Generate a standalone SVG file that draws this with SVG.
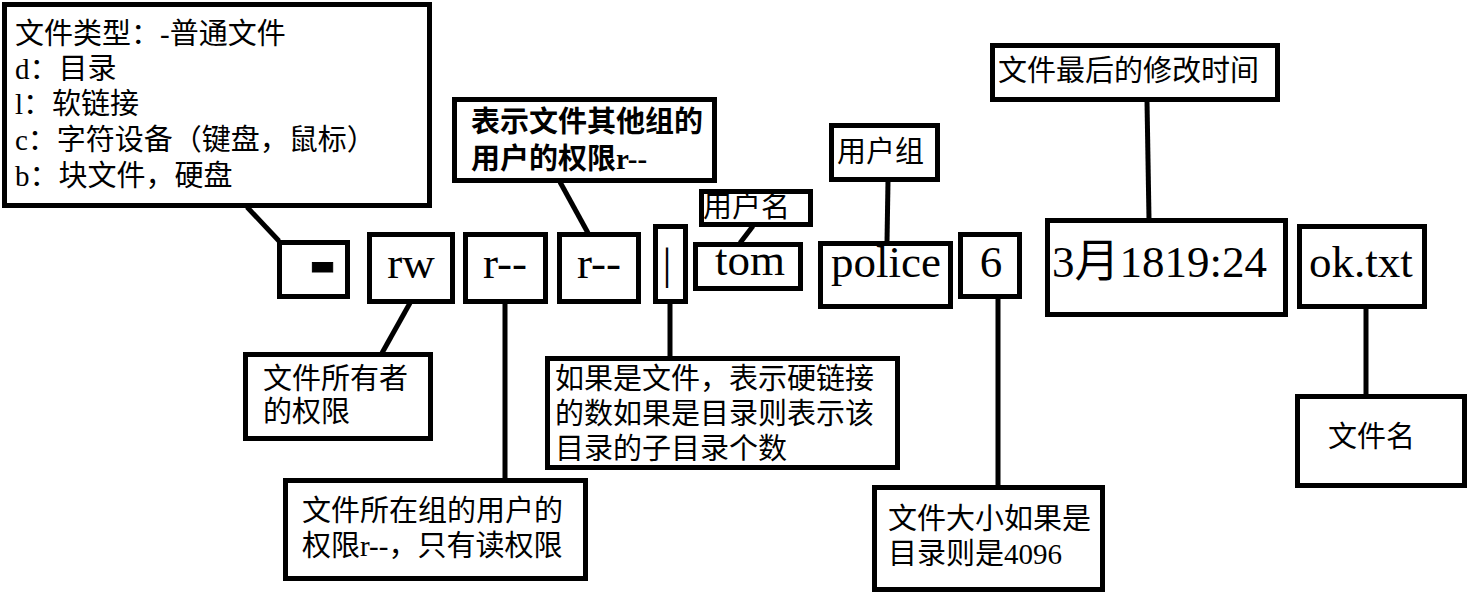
<svg xmlns="http://www.w3.org/2000/svg" width="1468" height="595" viewBox="0 0 1468 595">
<style>
  .box { fill: #ffffff; stroke: #000000; stroke-width: 5; }
  .conn { stroke: #000000; stroke-width: 5; fill: none; stroke-linecap: butt; }
  .lbl { font-family: "Liberation Serif", "Noto Sans CJK SC", serif; font-size: 29px; fill: #000000; }
  .bold { font-weight: bold; }
  .big { font-family: "Liberation Serif", "Noto Sans CJK SC", serif; font-size: 45px; fill: #000000; }
</style>
<rect width="1468" height="595" fill="#ffffff"/>

<g id="connectors">
  <line class="conn" x1="247" y1="207" x2="279" y2="241"/>
  <line class="conn" x1="410" y1="303" x2="382" y2="353"/>
  <line class="conn" x1="505" y1="303" x2="505" y2="479"/>
  <line class="conn" x1="560" y1="182" x2="588" y2="233"/>
  <line class="conn" x1="670" y1="303" x2="670" y2="357"/>
  <line class="conn" x1="753" y1="226" x2="740" y2="243"/>
  <line class="conn" x1="888" y1="181" x2="887" y2="242"/>
  <line class="conn" x1="998" y1="298" x2="998" y2="486"/>
  <line class="conn" x1="1147" y1="101" x2="1149" y2="219"/>
  <line class="conn" x1="1366" y1="308" x2="1366" y2="395"/>
</g>

<g id="type-note">
  <rect class="box" x="4.5" y="4.5" width="425" height="201"/>
  <text class="lbl" x="15" y="44">文件类型：-普通文件</text>
  <text class="lbl" x="15" y="79">d：目录</text>
  <text class="lbl" x="15" y="114">l：软链接</text>
  <text class="lbl" x="15" y="150">c：字符设备（键盘，鼠标）</text>
  <text class="lbl" x="15" y="186">b：块文件，硬盘</text>
</g>

<g id="type">
  <rect class="box" x="279.5" y="242.5" width="68" height="54"/>
  <text x="322.5" y="288" text-anchor="middle" font-family="Liberation Sans, sans-serif" font-weight="bold" font-size="80" stroke="#000" stroke-width="1">-</text>
</g>

<g id="owner-perm">
  <rect class="box" x="369.5" y="234.5" width="83" height="67"/>
  <text class="big" x="411" y="278" text-anchor="middle">rw</text>
</g>

<g id="group-perm">
  <rect class="box" x="465.5" y="234.5" width="80" height="67"/>
  <text class="big" x="505" y="278" text-anchor="middle">r--</text>
</g>

<g id="other-perm">
  <rect class="box" x="559.5" y="234.5" width="79" height="67"/>
  <text class="big" x="599" y="278" text-anchor="middle">r--</text>
</g>

<g id="links">
  <rect class="box" x="655.5" y="226.5" width="30" height="75"/>
  <text class="big" x="667" y="279" text-anchor="middle" font-size="52">|</text>
</g>

<g id="user">
  <rect class="box" x="695.5" y="244.5" width="105" height="44"/>
  <text class="big" x="750" y="275" text-anchor="middle">tom</text>
</g>

<g id="group">
  <rect class="box" x="820.5" y="243.5" width="130" height="63"/>
  <text class="big" x="886" y="277" text-anchor="middle">police</text>
</g>

<g id="size">
  <rect class="box" x="960.5" y="234.5" width="59" height="62"/>
  <text class="big" x="991" y="277" text-anchor="middle">6</text>
</g>

<g id="mtime">
  <rect class="box" x="1047.5" y="220.5" width="238" height="94"/>
  <text class="big" x="1052" y="277">3月1819:24</text>
</g>

<g id="filename">
  <rect class="box" x="1299.5" y="226.5" width="125" height="80"/>
  <text class="big" x="1361" y="277" text-anchor="middle">ok.txt</text>
</g>

<g id="other-note">
  <rect class="box" x="454.5" y="99.5" width="260" height="81"/>
  <text class="lbl bold" x="471" y="132">表示文件其他组的</text>
  <text class="lbl bold" x="471" y="169">用户的权限r--</text>
</g>

<g id="user-note">
  <rect class="box" x="701.5" y="191.5" width="109" height="33"/>
  <text class="lbl" x="703" y="217">用户名</text>
</g>

<g id="group-note">
  <rect class="box" x="831.5" y="125.5" width="106" height="54"/>
  <text class="lbl" x="837" y="162">用户组</text>
</g>

<g id="mtime-note">
  <rect class="box" x="992.5" y="45.5" width="285" height="54"/>
  <text class="lbl" x="998" y="81">文件最后的修改时间</text>
</g>

<g id="owner-note">
  <rect class="box" x="245.5" y="354.5" width="185" height="84"/>
  <text class="lbl" x="263" y="389">文件所有者</text>
  <text class="lbl" x="263" y="422">的权限</text>
</g>

<g id="group-perm-note">
  <rect class="box" x="285.5" y="480.5" width="300" height="98"/>
  <text class="lbl" x="302" y="521">文件所在组的用户的</text>
  <text class="lbl" x="302" y="556">权限r--，只有读权限</text>
</g>

<g id="links-note">
  <rect class="box" x="547.5" y="358.5" width="350" height="109"/>
  <text class="lbl" x="555" y="389">如果是文件，表示硬链接</text>
  <text class="lbl" x="555" y="424">的数如果是目录则表示该</text>
  <text class="lbl" x="555" y="459">目录的子目录个数</text>
</g>

<g id="size-note">
  <rect class="box" x="874.5" y="487.5" width="228" height="102"/>
  <text class="lbl" x="888" y="529">文件大小如果是</text>
  <text class="lbl" x="888" y="564">目录则是4096</text>
</g>

<g id="filename-note">
  <rect class="box" x="1297.5" y="396.5" width="167" height="89"/>
  <text class="lbl" x="1328" y="447">文件名</text>
</g>
</svg>
